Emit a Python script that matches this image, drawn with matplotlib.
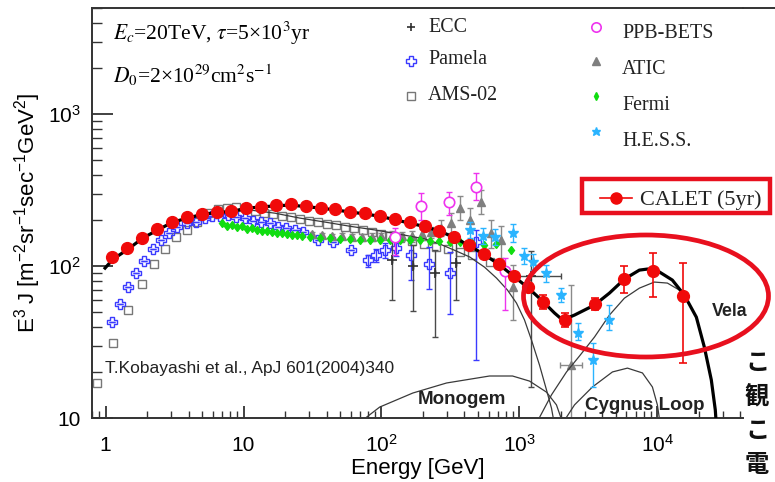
import numpy as np
import matplotlib
matplotlib.use('Agg')
import matplotlib.pyplot as plt
from matplotlib.patches import Ellipse, Rectangle
from matplotlib.lines import Line2D
from matplotlib.ticker import NullFormatter

plt.rcParams['font.family'] = ['Liberation Sans', 'DejaVu Sans']
plt.rcParams['mathtext.fontset'] = 'stix'

# ---- data (E in GeV, E^3 J) ----
calet_E = [1.12, 1.44, 1.85, 2.37, 3.03, 3.89, 4.98, 6.38, 8.18, 10.5, 13.4, 17.2, 22.0,
           28.3, 36.2, 46.4, 59.4, 76.2, 97.7, 125, 160, 206, 263, 337, 432, 554, 710,
           910, 1166, 1494, 2166, 3573, 5800, 9400, 15500]
calet_J = [114, 131, 154, 175, 196, 209, 221, 226, 231, 243, 246, 252, 256, 248, 242, 236,
           228, 222, 215, 204, 194, 183, 171, 155, 137, 121, 104, 86.7, 72.4, 58.2,
           44.1, 56.0, 81.7, 93.1, 63.8]
calet_err_lo = [0] * 28 + [3, 6.1, 4.2, 4.6, 15.6, 30.3, 40.7]
calet_err_hi = [0] * 28 + [3, 6.2, 4.7, 5.5, 18.3, 29.3, 40.4]

pam_E = [1.12, 1.28, 1.46, 1.67, 1.91, 2.20, 2.52, 2.90, 3.31, 3.86, 4.51, 5.25, 5.89, 6.73,
         7.73, 8.89, 10.2, 11.7, 13.5, 15.5, 17.8, 20.5, 23.5, 26.9, 34.5, 44.4, 60.6, 80.0,
         92.0, 107, 128, 165, 221, 313, 488]
pam_J = [43.1, 56.2, 73.1, 90.4, 108, 129, 148, 166, 180, 191, 196, 208, 213, 214, 217, 211,
         206, 199, 196, 191, 181, 177, 173, 168, 148, 145, 127, 109, 118, 127, 131, 118,
         104, 89.5, 145]
pam_err_lo = [0] * 27 + [10, 12, 14, 15, 37, 33, 41, 121]
pam_err_hi = [0] * 27 + [10, 12, 14, 15, 30, 30, 35, 28]

ams_E = [0.86, 1.135, 1.46, 1.83, 2.26, 2.71, 3.25, 3.86, 4.56, 5.54, 6.54, 7.53, 8.89, 10.4,
         12.1, 14.0, 16.3, 18.9, 22.0, 25.6, 29.7, 34.5, 40.1, 46.6, 54.2, 63.0, 73.2, 85.1,
         98.9, 115, 136, 166, 203, 248, 303, 370, 452, 610]
ams_J = [17.1, 31.0, 51.4, 76.2, 103, 130, 155, 174, 196, 222, 236, 243, 246, 240, 232, 225,
         220, 215, 210, 204, 199, 195, 190, 186, 182, 178, 173, 167, 162, 157, 153, 146,
         140, 133, 129, 124, 118, 106]

fermi_E = [6.93, 7.57, 8.22, 8.93, 9.72, 10.6, 11.5, 12.5, 13.6, 14.8, 16.0, 17.4, 18.9, 20.6,
           22.4, 24.3, 26.4, 30.2, 35.7, 42.2, 49.9, 58.9, 69.6, 82.3, 97.2, 115, 136, 160,
           190, 224, 264, 313, 369, 451, 551, 684, 865]
fermi_J = [193, 183, 186, 181, 183, 175, 178, 173, 170, 170, 167, 165, 165, 162, 160, 160, 157,
           155, 153, 153, 151, 151, 148, 148, 148, 148, 148, 148, 148, 146, 146, 144, 144,
           142, 137, 140, 127]

atic_E = [31.3, 36.9, 43.6, 51.6, 60.9, 72.0, 85.1, 100, 119, 140, 166, 196, 231, 269, 322,
          369, 436, 531, 627, 741, 894, 2393]
atic_J = [162, 160, 157, 157, 155, 155, 155, 157, 160, 157, 157, 162, 167, 178, 191, 240, 201,
          265, 164, 148, 73.1, 22.3]
atic_lo = [156, 154, 151, 150, 148, 147, 146, 148, 150, 146, 145, 149, 153, 157, 165, 201,
           167, 220, 131, 113, 44.2, 5]
atic_hi = [168, 166, 163, 164, 162, 163, 164, 166, 170, 168, 169, 175, 181, 201, 223, 289,
           241, 316, 201, 183, 102, 75]
atic_xerr_lo = [0] * 21 + [433]
atic_xerr_hi = [0] * 21 + [484]

ecc_E = [120, 169, 243, 349, 1222]
ecc_J = [110, 100, 90, 105, 86]
ecc_lo = [60, 51, 34, 60, 16]
ecc_hi = [148, 137, 127, 148, 125]
ecc_xerr_lo = [0, 0, 0, 0, 329]
ecc_xerr_hi = [0, 0, 0, 0, 804]

ppb_E = [125, 195, 307, 488, 782]
ppb_J = [155, 248, 265, 330, 92.7]
ppb_lo = [118, 201, 217, 272, 51.4]
ppb_hi = [178, 301, 308, 411, 113]

hess_E = [436, 545, 662, 899, 1092, 1256, 1570, 2015, 2660, 3415, 4460]
hess_J = [173, 157, 155, 165, 116, 106, 90, 64.4, 36.2, 24.1, 44.2]
hess_lo = [153, 140, 137, 144, 103, 94.1, 78.5, 57.9, 32.6, 16.0, 37.9]
hess_hi = [195, 178, 175, 189, 131, 120, 102, 71.6, 42.2, 31.1, 55.4]

# model curves
model_E = [0.99, 1.13, 1.45, 1.86, 2.39, 3.07, 3.95, 5.07, 6.51, 8.36, 10.7, 13.6, 17.4, 22.4,
           28.3, 36.3, 46.6, 59.8, 76.9, 97.2, 125, 160, 206, 264, 340, 429, 551, 708, 909,
           1167, 1474, 1803, 2061, 2518, 3514, 4512, 5794, 7441, 8507, 9890, 12900, 15770,
           19270, 22020, 24740, 26440, 26900]
model_J = [97, 111, 129, 153, 173, 195, 207, 220, 225, 230, 241, 245, 250, 252, 246, 241, 234,
           227, 220, 213, 202, 192, 182, 170, 154, 137, 120, 103, 86.0, 71.6, 58.9, 49.1,
           44.2, 47.6, 55.4, 66.4, 82.1, 94.1, 95.6, 94.1, 80.9, 64.4, 46.1, 29.3, 17.8,
           11.3, 9]
bg_E = [0.99, 1.13, 1.45, 1.86, 2.39, 3.07, 3.95, 5.07, 6.51, 8.36, 11.1, 16.9, 25.6, 38.8,
        58.9, 89.4, 136, 206, 264, 340, 436, 560, 684, 822, 955, 1092, 1227, 1403, 1577,
        1714, 1803]
bg_J = [97, 111, 129, 153, 173, 195, 207, 220, 225, 230, 234, 223, 207, 195, 183, 173, 162,
        151, 140, 127, 115, 98.4, 83.4, 69.5, 57.1, 44.2, 32.6, 22.3, 15.3, 11.6, 9]
mono_E = [66, 97.2, 169, 297, 609, 894, 1187, 1577, 1862, 2093]
mono_J = [9, 11.8, 14.6, 17.0, 18.9, 18.9, 17.5, 14.8, 12.2, 9]
vela_E = [1313, 1714, 2203, 2737, 3514, 4512, 5794, 7441, 9550, 11880, 14520, 17150, 19270,
          22020, 24740, 26440, 26900]
vela_J = [9, 14.2, 20.1, 25.6, 34.1, 47.6, 61.5, 71.6, 78.5, 77.3, 69.5, 56.2, 46.1, 29.3,
          17.8, 11.3, 9]
cyg_E = [2026, 2518, 3396, 4745, 6095, 7830, 9250, 10050, 10560]
cyg_J = [9, 12.2, 16.0, 20.1, 21.3, 19.8, 16.0, 12.2, 9]

# slide text beside the plot (only its first characters are visible)
side_text = ['こ', '観', 'こ', '電']

W, H = 775, 482


def fx(px):
    return px / W


def fy(py):
    return 1 - py / H


RED = '#f00a0a'
SERIF = ['Liberation Serif', 'DejaVu Serif']

fig = plt.figure(figsize=(7.75, 4.82), dpi=100)
ax = fig.add_axes([fx(92.3), fy(418), fx(743) - fx(92.3), fy(8) - fy(418)])
ax.set_xscale('log')
ax.set_yscale('log')
ax.set_xlim(0.8, 4.2e4)
ax.set_ylim(10, 5000)

# model curves
ax.plot(bg_E, bg_J, color='#3a3a3a', lw=0.9, zorder=3)
ax.plot(mono_E, mono_J, color='#3a3a3a', lw=0.9, zorder=3)
ax.plot(vela_E, vela_J, color='#3a3a3a', lw=0.9, zorder=3)
ax.plot(cyg_E, cyg_J, color='#3a3a3a', lw=0.9, zorder=3)
ax.plot(model_E, model_J, color='black', lw=2.3, zorder=5)

# data sets
ebar = dict(fmt='none', elinewidth=1.0, capsize=2.5, capthick=1.0)
h_ams, = ax.plot(ams_E, ams_J, 's', ms=6, mfc='none', mec='#777777', mew=1.0, zorder=2)

ax.errorbar(pam_E, pam_J, yerr=[pam_err_lo, pam_err_hi], color='#3a3aff', zorder=2, **ebar)
h_pam, = ax.plot(pam_E, pam_J, 'P', ms=7.5, mfc='none', mec='#3a3aff', mew=1.0, zorder=2)

h_fermi, = ax.plot(fermi_E, fermi_J, 'd', ms=4.5, color='#10dd10', zorder=3)

ax.errorbar(atic_E, atic_J,
            yerr=[np.subtract(atic_J, atic_lo), np.subtract(atic_hi, atic_J)],
            xerr=[atic_xerr_lo, atic_xerr_hi], color='#8a8a8a', zorder=2, **ebar)
h_atic, = ax.plot(atic_E, atic_J, '^', ms=6, color='#7f7f7f', zorder=2)

ax.errorbar(ecc_E, ecc_J,
            yerr=[np.subtract(ecc_J, ecc_lo), np.subtract(ecc_hi, ecc_J)],
            xerr=[ecc_xerr_lo, ecc_xerr_hi], color='#4a4a4a', zorder=2, **ebar)
h_ecc, = ax.plot(ecc_E, ecc_J, '+', ms=7, color='#303030', mew=1.2, zorder=2)

ax.errorbar(ppb_E, ppb_J,
            yerr=[np.subtract(ppb_J, ppb_lo), np.subtract(ppb_hi, ppb_J)],
            color='#ee33ee', zorder=3, **ebar)
h_ppb, = ax.plot(ppb_E, ppb_J, 'o', ms=7.5, mfc='white', mec='#ee33ee', mew=1.2, zorder=3)

ax.errorbar(hess_E, hess_J,
            yerr=[np.subtract(hess_J, hess_lo), np.subtract(hess_hi, hess_J)],
            color='#2ab4ff', zorder=3, **ebar)
h_hess, = ax.plot(hess_E, hess_J, '*', ms=7, color='#2ab4ff', zorder=3)

ax.errorbar(calet_E, calet_J, yerr=[calet_err_lo, calet_err_hi], color=RED,
            fmt='none', elinewidth=1.2, capsize=3, capthick=1.2, zorder=6)
h_calet, = ax.plot(calet_E, calet_J, 'o', ms=8.5, color=RED, zorder=7)

# axes styling
for s in ['left', 'bottom', 'top']:
    ax.spines[s].set_color('#333333')
    ax.spines[s].set_linewidth(1.4)
ax.spines['right'].set_visible(False)
fig.add_artist(Line2D([fx(743), 1.0], [fy(8), fy(8)], transform=fig.transFigure,
                      color='#333333', lw=1.4))

ax.set_xticks([1, 10, 100, 1000, 1e4])
ax.set_xticklabels(['1', '10', r'$\mathregular{10^2}$', r'$\mathregular{10^3}$',
                    r'$\mathregular{10^4}$'])
ax.set_yticks([10, 100, 1000])
ax.set_yticklabels(['10', r'$\mathregular{10^2}$', r'$\mathregular{10^3}$'])
ax.xaxis.set_minor_formatter(NullFormatter())
ax.yaxis.set_minor_formatter(NullFormatter())
ax.tick_params(which='both', direction='in', color='#333333', top=False, right=False)
ax.tick_params(axis='x', which='major', length=9, width=1.3, pad=24, labelsize=15)
ax.tick_params(axis='x', which='minor', length=5, width=1.0)
ax.tick_params(axis='y', which='major', length=15, width=1.3, pad=8, labelsize=15)
ax.tick_params(axis='y', which='minor', length=7, width=1.0)
for lab in ax.get_xticklabels():
    lab.set_va('baseline')

ax.set_xlabel('Energy [GeV]', fontsize=16, labelpad=2)
ax.set_ylabel(r'$\mathregular{E^3\ J\ [m^{-2}sr^{-1}sec^{-1}GeV^2]}$', fontsize=16,
              labelpad=4)

# annotation texts
fig.text(fx(113), fy(40), r'$E_c$=20TeV, $\tau$=5×10$^3$yr', fontsize=15.5,
         family=SERIF, va='baseline')
fig.text(fx(113), fy(83), r'$D_0$=2×10$^{29}$cm$^2$s$^{-1}$', fontsize=15.5,
         family=SERIF, va='baseline')
fig.text(fx(105), fy(369), 'T.Kobayashi et al., ApJ 601(2004)340', fontsize=12.5,
         va='center', color='#222222')
fig.text(fx(462), fy(400), 'Monogem', fontsize=13.5, weight='bold', ha='center',
         va='center', color='#222222')
fig.text(fx(645), fy(405), 'Cygnus Loop', fontsize=13.5, weight='bold', ha='center',
         va='center', color='#222222')
fig.text(fx(730), fy(312), 'Vela', fontsize=12.8, weight='bold', ha='center',
         va='center', color='#222222')

# legend, drawn as in the original panel
left_rows = [(h_ecc, 'ECC', 27, 28), (h_pam, 'Pamela', 61, 60), (h_ams, 'AMS-02', 96, 96)]
right_rows = [(h_ppb, 'PPB-BETS', 27, 34), (h_atic, 'ATIC', 61, 70),
              (h_fermi, 'Fermi', 96, 106), (h_hess, 'H.E.S.S.', 131, 141)]
for rows, mx, tx in [(left_rows, 411, 428), (right_rows, 596, 622)]:
    for h, lab, my, ty in rows:
        fig.add_artist(Line2D([fx(mx)], [fy(my)], transform=fig.transFigure, ls='none',
                              marker=h.get_marker(), ms=h.get_markersize() * 0.9,
                              mfc=h.get_markerfacecolor(), mec=h.get_markeredgecolor(),
                              mew=h.get_markeredgewidth()))
        fig.text(fx(tx), fy(ty), lab, fontsize=14.4, family=SERIF, va='center',
                 color='#222222')

# CALET key in red box
fig.add_artist(Rectangle((fx(582), fy(213)), fx(770) - fx(582), fy(179) - fy(213),
                         transform=fig.transFigure, fill=False, edgecolor='#e8101e', lw=3.2))
fig.add_artist(Line2D([fx(600), fx(632)], [fy(198), fy(198)], transform=fig.transFigure,
                      color=RED, lw=1.2))
fig.add_artist(Line2D([fx(616)], [fy(198)], transform=fig.transFigure, ls='none',
                      marker='o', ms=8, color=RED))
fig.text(fx(640), fy(200), 'CALET (5yr)', fontsize=16, family=SERIF, va='center',
         color='#222222')

# highlight around the Vela bump
fig.add_artist(Ellipse((fx(646), fy(296)), fx(245), 122 / H, transform=fig.transFigure,
                       fill=False, edgecolor='#e8101e', lw=3.4))

# slide text at the right edge
for yy, s in zip([363, 397, 431, 465], side_text):
    fig.text(fx(745), fy(yy), s, fontsize=17.5, family=['Noto Sans CJK JP'],
             weight='bold', va='center', color='#111111')

plt.savefig('out.png', dpi=100)
